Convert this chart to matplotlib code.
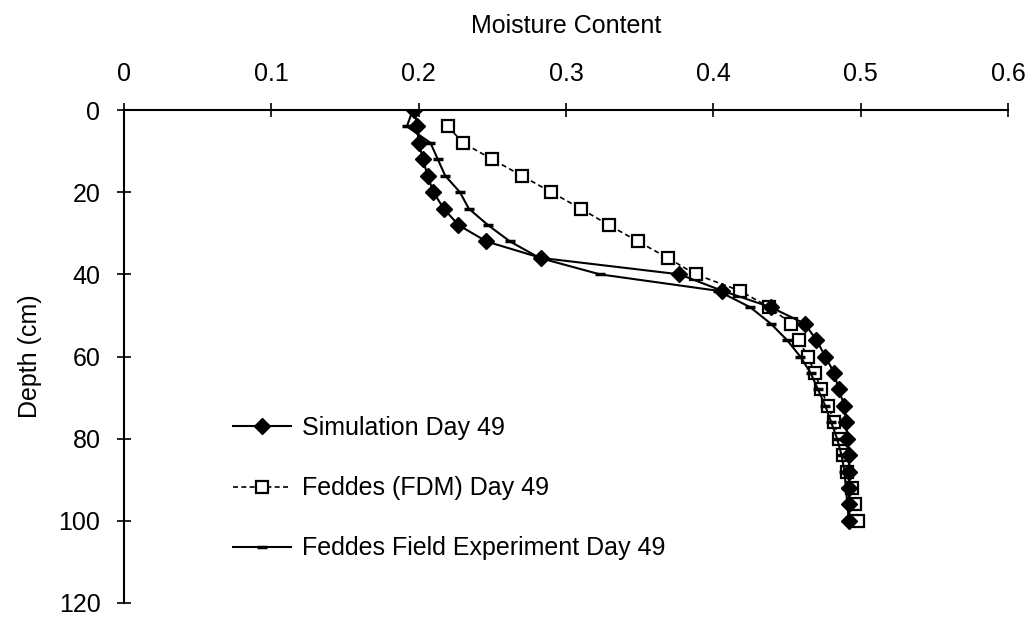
import matplotlib
matplotlib.use("Agg")
import matplotlib.pyplot as plt

plt.rcParams['font.family'] = ['Liberation Sans', 'DejaVu Sans']

depth = [0, 4, 8, 12, 16, 20, 24, 28, 32, 36, 40, 44, 48, 52, 56, 60, 64, 68, 72, 76, 80, 84, 88, 92, 96, 100]

simulation = [0.197, 0.199, 0.200, 0.203, 0.206, 0.210, 0.217, 0.227, 0.246, 0.283, 0.377, 0.406, 0.439,
              0.462, 0.470, 0.476, 0.482, 0.485, 0.489, 0.490, 0.491, 0.492, 0.492, 0.492, 0.492, 0.492]

fdm_depth = depth[1:]
fdm = [0.220, 0.230, 0.250, 0.270, 0.290, 0.310, 0.329, 0.349, 0.369, 0.388, 0.418, 0.438,
       0.453, 0.458, 0.464, 0.469, 0.473, 0.478, 0.482, 0.485, 0.488, 0.491, 0.494, 0.496, 0.498]

field = [0.196, 0.192, 0.208, 0.213, 0.218, 0.228, 0.234, 0.247, 0.262, 0.282, 0.323, 0.403, 0.425,
         0.439, 0.450, 0.459, 0.466, 0.471, 0.476, 0.480, 0.484, 0.487, 0.489, 0.490, 0.491, 0.492]

xticks = [0, 0.1, 0.2, 0.3, 0.4, 0.5, 0.6]
xticklabels = ['0', '0.1', '0.2', '0.3', '0.4', '0.5', '0.6']
yticks = [0, 20, 40, 60, 80, 100, 120]

fig = plt.figure(figsize=(10.33, 6.19), dpi=100)
ax = fig.add_axes([124 / 1033, 1 - 603 / 619, (1008 - 124) / 1033, (603 - 110) / 619])

ax.plot(fdm, fdm_depth, linestyle=(0, (3, 2)), color='black', linewidth=1.2,
        marker='s', markersize=9, markerfacecolor='white', markeredgecolor='black',
        markeredgewidth=1.6, label='Feddes (FDM) Day 49', zorder=3)
ax.plot(field, depth, linestyle='-', color='black', linewidth=1.5,
        marker='_', markersize=7, markeredgewidth=2.5,
        label='Feddes Field Experiment Day 49', zorder=4)
ax.plot(simulation, depth, linestyle='-', color='black', linewidth=1.5,
        marker='D', markersize=8, markerfacecolor='black', markeredgecolor='black',
        label='Simulation Day 49', zorder=5)

ax.set_xlim(0, 0.6)
ax.set_ylim(120, 0)
ax.xaxis.tick_top()
ax.xaxis.set_label_position('top')
ax.set_xticks(xticks)
ax.set_xticklabels(xticklabels)
ax.set_yticks(yticks)

for s in ['right', 'bottom']:
    ax.spines[s].set_visible(False)
for s in ['left', 'top']:
    ax.spines[s].set_linewidth(1.5)

ax.tick_params(axis='both', direction='inout', length=10, width=1.2, labelsize=18, pad=12)
ax.set_xlabel('Moisture Content', fontsize=18, labelpad=21)
ax.set_ylabel('Depth (cm)', fontsize=18, labelpad=12)

handles, labels = ax.get_legend_handles_labels()
order = [2, 0, 1]
leg = fig.legend([handles[i] for i in order], [labels[i] for i in order],
                 loc='upper left', bbox_to_anchor=(233 / 1033, 1 - 416 / 619),
                 frameon=False, fontsize=18, borderpad=0, borderaxespad=0,
                 handlelength=2.3, handletextpad=0.45, labelspacing=1.45)

fig.savefig('out.png', dpi=100)
